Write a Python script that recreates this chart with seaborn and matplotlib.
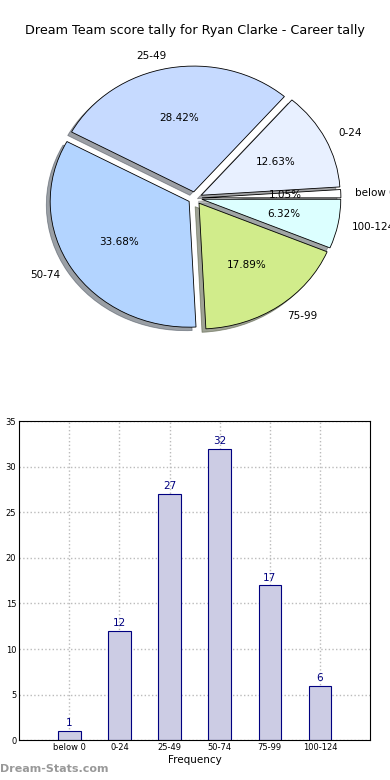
import matplotlib
matplotlib.use("Agg")
import matplotlib.pyplot as plt
import seaborn as sns

categories = ['below 0', '0-24', '25-49', '50-74', '75-99', '100-124']
counts = [1, 12, 27, 32, 17, 6]
pie_colors = ['#ffffff', '#e8f0ff', '#c6daff', '#b3d4ff', '#d1ec8b', '#dcffff']
y_ticks = [0, 5, 10, 15, 20, 25, 30, 35]


def main():
    sns.set_style('white', {'axes.edgecolor': 'black', 'axes.linewidth': 0.8,
                            'text.color': 'black', 'axes.labelcolor': 'black',
                            'xtick.color': 'black', 'ytick.color': 'black'})
    plt.rcParams['font.family'] = ['DejaVu Sans']

    fig = plt.figure(figsize=(3.9, 7.8), dpi=100)
    plot_pie(fig)
    plot_bars(fig)
    fig.text(0.0, 0.008, 'Dream-Stats.com', color='#999999', fontsize=8,
             fontweight='bold', ha='left', va='bottom')
    fig.savefig('out.png', dpi=100)


def plot_pie(fig):
    # old-style pie: not forced to equal aspect, so it is a bit wider than tall
    ax = fig.add_axes([0.0725, 0.5526, 0.855, 0.387])
    ax.pie(counts, labels=categories, colors=pie_colors, explode=[0.05] * 6,
           autopct='%.2f%%', shadow=True, startangle=0,
           wedgeprops={'edgecolor': 'black', 'linewidth': 0.6},
           textprops={'fontsize': 7.5, 'color': 'black'})
    ax.set_xlim(-1.2, 1.2)
    ax.set_ylim(-1.2, 1.2)
    ax.set_aspect('auto')
    fig.text(0.5, 0.961, 'Dream Team score tally for Ryan Clarke - Career tally',
             ha='center', va='center', fontsize=9.2)


def plot_bars(fig):
    ax = fig.add_axes([0.049, 0.051, 0.9, 0.409])
    sns.barplot(x=categories, y=counts, color='#ccccE4', saturation=1,
                width=0.45, edgecolor='#000080', linewidth=0.8, ax=ax)
    for i, c in enumerate(counts):
        ax.text(i, c + 0.3, str(c), ha='center', va='bottom',
                color='#000080', fontsize=7.5)
    ax.set_xlim(-1, 6)
    ax.set_ylim(0, 35)
    ax.set_yticks(y_ticks)
    ax.grid(True, linestyle=':', color='#bbbbbb', linewidth=1)
    ax.set_axisbelow(True)
    ax.tick_params(labelsize=6, direction='in', length=3, pad=2)
    ax.set_xlabel('Frequency', fontsize=7.5, labelpad=2)
    ax.set_ylabel('Occurrences', fontsize=7.5, labelpad=8)


if __name__ == '__main__':
    main()
